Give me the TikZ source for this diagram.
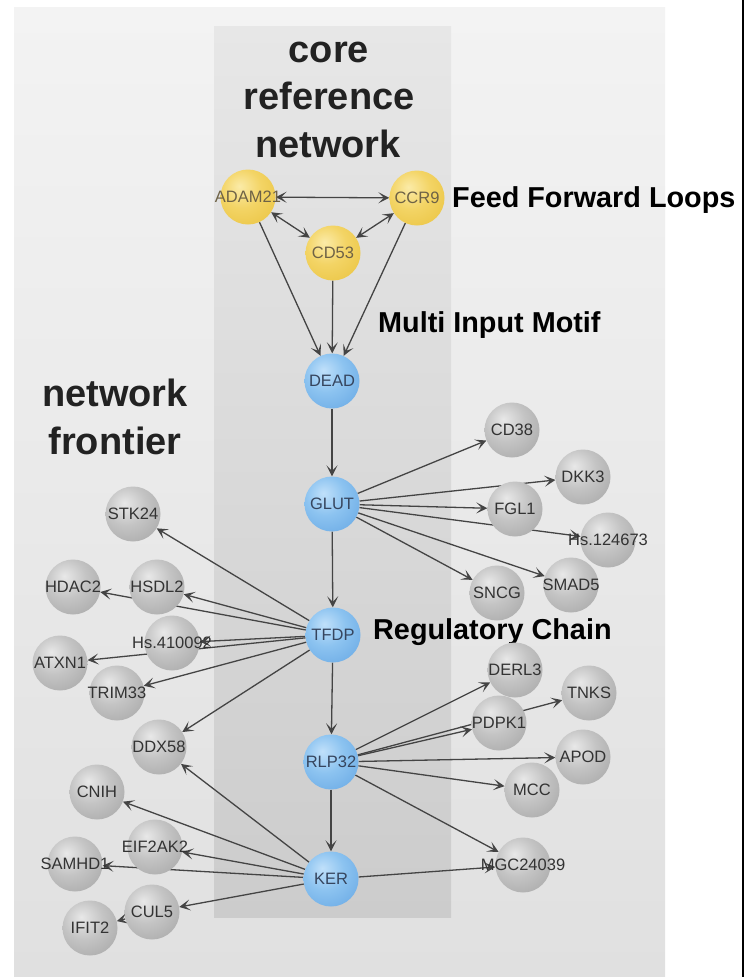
\documentclass[tikz,border=0pt]{standalone}
\usepackage{fontspec}
\setmainfont{Liberation Sans}
\usetikzlibrary{arrows.meta}
\definecolor{panTop}{HTML}{F3F3F3}
\definecolor{panBot}{HTML}{E0E0E0}
\definecolor{coreTop}{HTML}{E7E7E7}
\definecolor{coreBot}{HTML}{CCCCCC}
\definecolor{edgeC}{HTML}{444444}
\definecolor{yHi}{HTML}{FBEBA8}
\definecolor{yMid}{HTML}{F3D465}
\definecolor{yBody}{HTML}{E9C23E}
\definecolor{yEdge}{HTML}{C99C10}
\definecolor{bHi}{HTML}{C0E0FA}
\definecolor{bMid}{HTML}{8CC3F0}
\definecolor{bBody}{HTML}{65A6E3}
\definecolor{bEdge}{HTML}{3F80CC}
\definecolor{gHi}{HTML}{E8E8E8}
\definecolor{gMid}{HTML}{C4C4C4}
\definecolor{gBody}{HTML}{A4A4A4}
\definecolor{gEdge}{HTML}{7A7A7A}
\definecolor{yText}{HTML}{6E6246}
\definecolor{bText}{HTML}{36455E}
\definecolor{gText}{HTML}{333333}
\definecolor{bigText}{HTML}{222222}
\pgfdeclareradialshading{yball}{\pgfpoint{-8bp}{10bp}}{color(0bp)=(yHi); color(18bp)=(yMid); color(42bp)=(yBody); color(62bp)=(yEdge); color(80bp)=(yEdge)}
\pgfdeclareradialshading{bball}{\pgfpoint{-8bp}{10bp}}{color(0bp)=(bHi); color(18bp)=(bMid); color(42bp)=(bBody); color(62bp)=(bEdge); color(80bp)=(bEdge)}
\pgfdeclareradialshading{gball}{\pgfpoint{-8bp}{10bp}}{color(0bp)=(gHi); color(18bp)=(gMid); color(42bp)=(gBody); color(62bp)=(gEdge); color(80bp)=(gEdge)}
\pgfdeclarelayer{bg}
\pgfdeclarelayer{edges}
\pgfsetlayers{bg,edges,main}
\tikzset{
  nd/.style={circle, minimum size=55pt, inner sep=0pt},
  lbl/.style={inner sep=0pt, font=\fontsize{16.5}{16.5}\selectfont},
  yn/.style={nd, shading=yball, label={[lbl,text=yText]center:#1}},
  bn/.style={nd, shading=bball, label={[lbl,text=bText]center:#1}},
  gn/.style={nd, shading=gball, label={[lbl,text=gText]center:#1}},
  ed/.style={draw=edgeC, line width=1.3pt, -{Stealth[length=11pt,width=11pt,inset=5.5pt]}},
  bi/.style={draw=edgeC, line width=1.3pt, {Stealth[length=11pt,width=11pt,inset=5.5pt]}-{Stealth[length=11pt,width=11pt,inset=5.5pt]}},
  bigt/.style={anchor=base, inner sep=0pt, text=bigText, font=\bfseries\fontsize{38}{38}\selectfont},
  motif/.style={anchor=base west, inner sep=0pt, text=black, font=\bfseries\fontsize{28.8}{28.8}\selectfont}
}
\begin{document}
\begin{tikzpicture}[x=1pt,y=-1pt]
\useasboundingbox (0,0) rectangle (755,977);
\begin{pgfonlayer}{bg}
\fill[white] (0,0) rectangle (755,977);
\shade[top color=panTop,bottom color=panBot] (14,7) rectangle (665,977);
\shade[top color=coreTop,bottom color=coreBot] (214,26) rectangle (451,917);
\draw[line width=2.5pt] (743,0) -- (743,977);
\end{pgfonlayer}

% titles
\node[bigt] (t1) at (329,62) {core};
\node[bigt] (t2) at (329,109) {reference};
\node[bigt] (t3) at (328,157) {network};
\node[bigt] (f1) at (115,406) {network};
\node[bigt] (f2) at (115,454) {frontier};
\node[motif] (ffl) at (452,207) {Feed Forward Loops};
\node[motif] (mim) at (378,332) {Multi Input Motif};
\node[motif] (rc) at (373,639) {Regulatory Chain};

% core nodes
\node[yn=ADAM21] (adam) at (248,197) {};
\node[yn=CCR9] (ccr9) at (417,198) {};
\node[yn=CD53] (cd53) at (333,253) {};
\node[bn=DEAD] (dead) at (332,381) {};
\node[bn=GLUT] (glut) at (332,504) {};
\node[bn=TFDP] (tfdp) at (333,635) {};
\node[bn=RLP32] (rlp) at (331,762) {};
\node[bn=KER] (ker) at (331,879) {};

% right frontier
\node[gn=CD38] (cd38) at (512,430) {};
\node[gn=DKK3] (dkk3) at (583,477) {};
\node[gn=FGL1] (fgl1) at (515,509) {};
\node[gn=Hs.124673] (hs124) at (608,540) {};
\node[gn=SMAD5] (smad5) at (571,585) {};
\node[gn=SNCG] (sncg) at (497,593) {};
\node[gn=DERL3] (derl3) at (515,670) {};
\node[gn=TNKS] (tnks) at (589,693) {};
\node[gn=PDPK1] (pdpk1) at (499,723) {};
\node[gn=APOD] (apod) at (583,757) {};
\node[gn=MCC] (mcc) at (532,790) {};
\node[gn=MGC24039] (mgc) at (523,865) {};

% left frontier
\node[gn=STK24] (stk24) at (133,514) {};
\node[gn=HDAC2] (hdac2) at (73,587) {};
\node[gn=HSDL2] (hsdl2) at (157,587) {};
\node[gn=Hs.410092] (hs410) at (172,643) {};
\node[gn=ATXN1] (atxn1) at (60,663) {};
\node[gn=TRIM33] (trim33) at (117,693) {};
\node[gn=DDX58] (ddx58) at (159,747) {};
\node[gn=CNIH] (cnih) at (97,792) {};
\node[gn=EIF2AK2] (eif) at (155,847) {};
\node[gn=SAMHD1] (samhd1) at (75,864) {};
\node[gn=CUL5] (cul5) at (152,912) {};
\node[gn=IFIT2] (ifit2) at (90,928) {};

\begin{pgfonlayer}{edges}
\draw[bi] (adam) -- (ccr9);
\draw[bi] (adam) -- (cd53);
\draw[bi] (ccr9) -- (cd53);
\draw[ed] (adam) -- (dead);
\draw[ed] (cd53) -- (dead);
\draw[ed] (ccr9) -- (dead);
\draw[ed] (dead) -- (glut);
\draw[ed] (glut) -- (tfdp);
\draw[ed] (tfdp) -- (rlp);
\draw[ed] (rlp) -- (ker);
\foreach \t in {cd38,dkk3,fgl1,hs124,smad5,sncg} \draw[ed] (glut) -- (\t);
\foreach \t in {stk24,hsdl2,hdac2,hs410,atxn1,trim33,ddx58} \draw[ed] (tfdp) -- (\t);
\foreach \t in {derl3,pdpk1,tnks,apod,mcc,mgc} \draw[ed] (rlp) -- (\t);
\foreach \t in {ddx58,cnih,eif,samhd1,cul5,mgc} \draw[ed] (ker) -- (\t);
\draw[ed] (cul5) -- (ifit2);
\end{pgfonlayer}
\end{tikzpicture}
\end{document}
